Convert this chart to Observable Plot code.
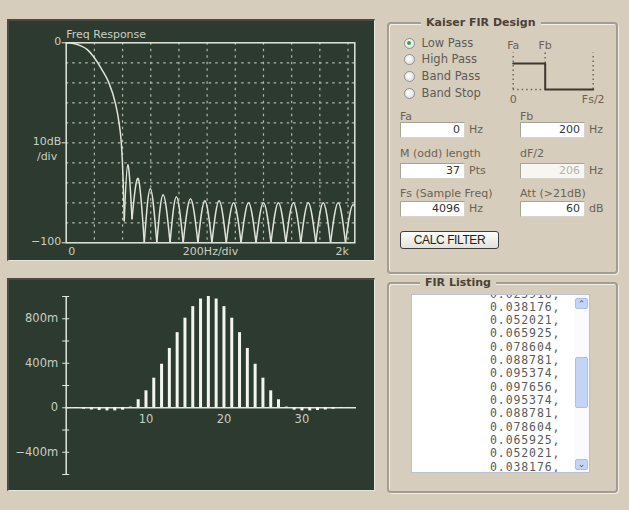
<!DOCTYPE html>
<html><head><meta charset="utf-8">
<script src="https://cdn.jsdelivr.net/npm/d3@7"></script>
<script src="https://cdn.jsdelivr.net/npm/@observablehq/plot@0.6"></script>
<style>
body{margin:0;background:#d6cdbd;}
#app{position:relative;width:629px;height:510px;background:#d6cdbd;overflow:hidden;font-family:"DejaVu Sans",sans-serif;}
.panel{position:absolute;background:#2d3a2f;box-sizing:border-box;border-top:2px solid #4b4a42;border-left:2px solid #4b4a42;border-right:1px solid #e9e4da;border-bottom:1px solid #e9e4da;}
.chart{position:absolute;}
.group{position:absolute;box-sizing:border-box;border:2px solid #a39d91;border-radius:4px;box-shadow:inset 1px 1px 0 #f3efe7,1px 1px 0 #f3efe7;}
.gtitle{position:absolute;background:#d6cdbd;padding:0 5px;font:bold 11px "DejaVu Sans",sans-serif;color:#4a4237;line-height:14px;}
.lbl{position:absolute;font:11px "DejaVu Sans",sans-serif;color:#6e6252;line-height:14px;white-space:nowrap;}
.rlbl{position:absolute;font:11.5px "DejaVu Sans",sans-serif;color:#5e5b56;line-height:14px;white-space:nowrap;}
.radio{position:absolute;width:11px;height:11px;border-radius:50%;box-sizing:border-box;border:1px solid #8c8f9c;background:radial-gradient(circle at 40% 40%,#ffffff 0%,#e4e3de 70%,#cfcdc6 100%);}
.radio.on::after{content:"";position:absolute;left:2.5px;top:2.5px;width:4px;height:4px;border-radius:50%;background:#3f9f4f;}
.inp{position:absolute;box-sizing:border-box;height:16px;background:#fff;border:1px solid #d8d3c8;border-top-color:#a7a296;border-left-color:#a7a296;font:11px "DejaVu Sans",sans-serif;color:#333;text-align:right;padding-right:4px;line-height:14px;}
.inp.dis{background:#f7f6f2;color:#b5b2ab;}
.btn{position:absolute;box-sizing:border-box;border:1px solid #3f3f3f;border-radius:3px;background:linear-gradient(#fdfdfc,#e4e1d8);font:12px "Liberation Sans",sans-serif;letter-spacing:-0.4px;color:#222;text-align:center;line-height:16px;}
.list{position:absolute;box-sizing:border-box;background:#fff;border:1px solid #b7c3d3;overflow:hidden;}
.line{position:absolute;font:11.5px "DejaVu Sans Mono",monospace;letter-spacing:0.9px;color:#5a5a5a;line-height:11px;height:11px;white-space:pre;}
.sb{position:absolute;box-sizing:border-box;background:#c3d4f7;border:1px solid #aebfe6;border-radius:2px;font:9px "DejaVu Sans",sans-serif;color:#4d6185;text-align:center;}
</style></head>
<body>
<div id="app">
  <div class="panel" style="left:7px;top:19px;width:368px;height:242px;"></div>
  <div class="panel" style="left:7px;top:278px;width:368px;height:213px;"></div>
  <div id="resp" class="chart" style="left:7px;top:20px;"></div>
  <div id="stem" class="chart" style="left:7px;top:278px;"></div>

  <div class="group" style="left:387px;top:22px;width:231px;height:252px;"></div>
  <div class="gtitle" style="left:421px;top:16px;">Kaiser FIR Design</div>

  <div class="group" style="left:387px;top:282px;width:231px;height:211px;"></div>
  <div class="gtitle" style="left:420px;top:276px;">FIR Listing</div>
  <div id="ui"></div>
  <div id="mini" class="chart" style="left:490px;top:36px;"></div>
</div>
<script>
// ---------- Frequency response (Hz, dB) ----------
const respMainFreq = [0, 50, 100, 150, 200, 250, 300, 350, 375, 391, 399, 405, 409, 412];
const respMainDb   = [0, -0.3, -1.4, -3.4, -7.5, -13, -19.5, -30.5, -40, -50, -60, -71, -80, -89];
const respNullFreq = [412, 467, 554, 643, 737, 830, 935, 1034, 1136, 1241, 1347, 1453, 1559, 1665, 1771, 1876, 1982, 2090];
const respNullDb   = [-89, -88, -100, -100, -100, -100, -100, -100, -100, -100, -100, -100, -100, -100, -100, -100, -100, -100];
const respPeakFreq = [437, 512, 597, 688, 782, 882, 984, 1085, 1188, 1294, 1400, 1506, 1612, 1718, 1824, 1930, 2036];
const respPeakDb   = [-61, -68, -73, -76, -77, -78, -79, -79, -80, -80, -80, -80, -80, -80, -80, -80, -81];
const respGridFreq = [200, 400, 600, 800, 1000, 1200, 1400, 1600, 1800, 2000];
const respGridDb   = [-10, -20, -30, -40, -50, -60, -70, -80, -90];
const respYTicks   = [0, -50, -100];
const respYLabels  = ["0", "10dB", "\u2212100"];
const respXTicks   = [0, 1024, 2048];
const respXLabels  = ["0", "200Hz/div", "2k"];
const respDomainX  = [0, 2048];
const respDomainY  = [-100, 0];

// ---------- Impulse response (taps, milli-units) ----------
const tapValues = [-3, -7, -13, -20, -25, -28, -28, -22, 6, 72, 152, 266, 391, 533, 675, 805, 909, 977, 1000,
                   977, 909, 805, 675, 533, 391, 266, 152, 72, 6, -22, -28, -28, -25, -20, -13, -7, -3];
const stemXDomain = [-0.23, 37];
const stemYDomain = [-600, 1000];
const stemYTicks = [-600, -400, -200, 0, 200, 400, 600, 800, 1000];
const stemYLabelValues = [800, 400, 0, -400];
const stemYLabels = ["800m", "400m", "0", "\u2212400m"];
const stemXTicks = [10, 20, 30];

// ---------- Mini band diagram ----------
const miniStepX = [0, 0.4, 0.4, 1];
const miniStepY = [1, 1, 0, 0];
const miniFb = 0.4;
const miniTopLabels = ["Fa", "Fb"];
const miniTopX = [0, 0.4];
const miniBottomLabels = ["0", "Fs/2"];
const miniBottomX = [0, 1];

// ---------- FIR listing ----------
const firLines = ["0.025916,", "0.038176,", "0.052021,", "0.065925,", "0.078604,", "0.088781,", "0.095374,",
                  "0.097656,", "0.095374,", "0.088781,", "0.078604,", "0.065925,", "0.052021,", "0.038176,"];

// ---------- Form ----------
const radioLabels = ["Low Pass", "High Pass", "Band Pass", "Band Stop"];
const fieldLabels = [["Fa", "Fb"], ["M (odd) length", "dF/2"], ["Fs (Sample Freq)", "Att (>21dB)"]];
const fieldValues = [["0", "200"], ["37", "206"], ["4096", "60"]];
const fieldUnits = [["Hz", "Hz"], ["Pts", "Hz"], ["Hz", "dB"]];

const fg = "#c8cfc2", curveCol = "#dfe3d8";

// Frequency response chart
const mainLobe = respMainFreq.map((f, i) => ({f, db: respMainDb[i]}));
const arches = respPeakFreq.flatMap((f, i) => [
  {lobe: i, f: respNullFreq[i], db: respNullDb[i]},
  {lobe: i, f, db: respPeakDb[i]},
  {lobe: i, f: respNullFreq[i + 1], db: respNullDb[i + 1]}
]);
const anchors = ["start", "middle", "end"];
const resp = Plot.plot({
  width: 368, height: 240,
  marginLeft: 58.7, marginRight: 20.7, marginTop: 22.3, marginBottom: 17.7,
  style: {background: "transparent", color: fg, fontFamily: "DejaVu Sans", fontSize: "11px", overflow: "visible"},
  x: {domain: respDomainX, axis: null},
  y: {domain: respDomainY, axis: null},
  marks: [
    Plot.ruleX(respGridFreq, {stroke: "#aeb9a8", strokeDasharray: "2.5,4", strokeWidth: 1.2}),
    Plot.ruleY(respGridDb, {stroke: "#aeb9a8", strokeDasharray: "2.5,4", strokeWidth: 1.2}),
    Plot.line(mainLobe, {x: "f", y: "db", curve: "monotone-x", stroke: curveCol, strokeWidth: 1.5}),
    Plot.line(arches, {x: "f", y: "db", z: "lobe", curve: "natural", stroke: curveCol, strokeWidth: 1.5, clip: true}),
    Plot.frame({stroke: "#e2e6dc", strokeWidth: 1.5}),
    Plot.axisY(respYTicks, {tickSize: 4, stroke: "#e2e6dc", tickFormat: () => "", label: null}),
    Plot.text(respYTicks, {x: respDomainX[0], y: d => d, dx: -5, dy: -1, textAnchor: "end", fill: fg, text: (d, i) => respYLabels[i]}),
    Plot.text(["/div"], {x: respDomainX[0], y: respYTicks[1], dx: -9, dy: 14, textAnchor: "end", fill: fg}),
    ...respXTicks.map((t, i) => Plot.text([respXLabels[i]], {x: t, y: respDomainY[0], dy: 9, dx: i === 0 ? 2 : i === 2 ? -6 : 0, textAnchor: anchors[i], fill: fg})),
    Plot.text(["Freq Response"], {frameAnchor: "top-left", lineAnchor: "middle", dy: -8.5, textAnchor: "start", fill: fg})
  ]
});
document.getElementById("resp").appendChild(resp);

// Impulse response chart
const stem = Plot.plot({
  width: 368, height: 212,
  marginLeft: 58.7, marginRight: 19, marginTop: 18, marginBottom: 16,
  style: {background: "transparent", color: fg, fontFamily: "DejaVu Sans", fontSize: "11.5px", overflow: "visible"},
  x: {domain: stemXDomain, axis: null},
  y: {domain: stemYDomain, axis: null},
  marks: [
    Plot.ruleY([0], {stroke: "#e2e6dc", strokeWidth: 1.5}),
    Plot.ruleX(tapValues, {x: (d, i) => i, y1: 0, y2: d => d, stroke: "#f3f5ef", strokeWidth: 3}),
    Plot.ruleX([stemXDomain[0]], {stroke: "#e2e6dc", strokeWidth: 1.5}),
    Plot.axisY(stemYTicks, {tickSize: 7, dx: 3.5, stroke: "#e2e6dc", tickFormat: () => "", label: null}),
    Plot.text(stemYLabelValues, {x: stemXDomain[0], y: d => d, dx: -8, textAnchor: "end", fill: fg, text: (d, i) => stemYLabels[i]}),
    Plot.text(stemXTicks, {x: d => d, y: 0, dy: 12, fill: fg, text: d => String(d)})
  ]
});
document.getElementById("stem").appendChild(stem);

// Mini diagram
const miniStep = miniStepX.map((x, i) => ({x, y: miniStepY[i]}));
const mini = Plot.plot({
  width: 130, height: 70,
  marginLeft: 22.7, marginRight: 27.3, marginTop: 16.6, marginBottom: 17,
  style: {background: "transparent", color: "#6e6252", fontFamily: "DejaVu Sans", fontSize: "11px", overflow: "visible"},
  x: {domain: [0, 1], axis: null},
  y: {domain: [0, 1.4], axis: null},
  marks: [
    Plot.ruleX(miniBottomX, {y1: 0, y2: 1.4, stroke: "#6f6555", strokeDasharray: "1.5,3", strokeWidth: 1.5}),
    Plot.ruleX([miniFb], {y1: 1, y2: 1.4, stroke: "#6f6555", strokeDasharray: "1.5,3", strokeWidth: 1.5}),
    Plot.ruleY([0], {x1: 0, x2: miniFb, stroke: "#6f6555", strokeDasharray: "1.5,3", strokeWidth: 1.5}),
    Plot.line(miniStep, {x: "x", y: "y", stroke: "#3f372e", strokeWidth: 2}),
    Plot.text(miniTopLabels, {x: (d, i) => miniTopX[i], y: 1.4, dy: -8, fill: "#6e6252"}),
    Plot.text(miniBottomLabels, {x: (d, i) => miniBottomX[i], y: 0, dy: 10, fill: "#6e6252"})
  ]
});
document.getElementById("mini").appendChild(mini);

// Form UI
const ui = document.getElementById("ui");
const add = (html) => ui.insertAdjacentHTML("beforeend", html);
const radioY = [43, 59.7, 76.3, 93];
radioLabels.forEach((t, i) => {
  add(`<div class="radio${i === 0 ? " on" : ""}" style="left:403.5px;top:${radioY[i] - 5.5}px"></div>`);
  add(`<div class="rlbl" style="left:421.5px;top:${radioY[i] - 7.5}px">${t}</div>`);
});
const rowLabelY = [110, 147, 187];
const rowBoxY = [122, 163, 201];
const colX = [400, 520];
fieldLabels.forEach((row, r) => row.forEach((t, c) => {
  add(`<div class="lbl" style="left:${colX[c]}px;top:${rowLabelY[r]}px">${t.replace(">", "&gt;")}</div>`);
  const dis = r === 1 && c === 1 ? " dis" : "";
  add(`<div class="inp${dis}" style="left:${colX[c]}px;top:${rowBoxY[r]}px;width:65px">${fieldValues[r][c]}</div>`);
  add(`<div class="lbl" style="left:${colX[c] + 69}px;top:${rowBoxY[r] + 1}px">${fieldUnits[r][c]}</div>`);
}));
add(`<div class="btn" style="left:400px;top:231px;width:99px;height:18px">CALC FILTER</div>`);

// FIR listing box
let lines = "";
firLines.forEach((t, i) => { lines += `<div class="line" style="left:78px;top:${-6.5 + i * 13.33}px">${t}</div>`; });
add(`<div class="list" style="left:411px;top:294px;width:179px;height:179px">${lines}
  <div style="position:absolute;left:162px;top:0;width:15px;height:177px;background:#fbfbfd"></div>
  <div class="sb" style="left:163px;top:3px;width:13px;height:11px;line-height:11px">&#x2303;</div>
  <div class="sb" style="left:163px;top:62px;width:13px;height:51px"></div>
  <div class="sb" style="left:163px;top:164px;width:13px;height:11px;line-height:9px">&#x2304;</div>
</div>`);
</script>
</body></html>
